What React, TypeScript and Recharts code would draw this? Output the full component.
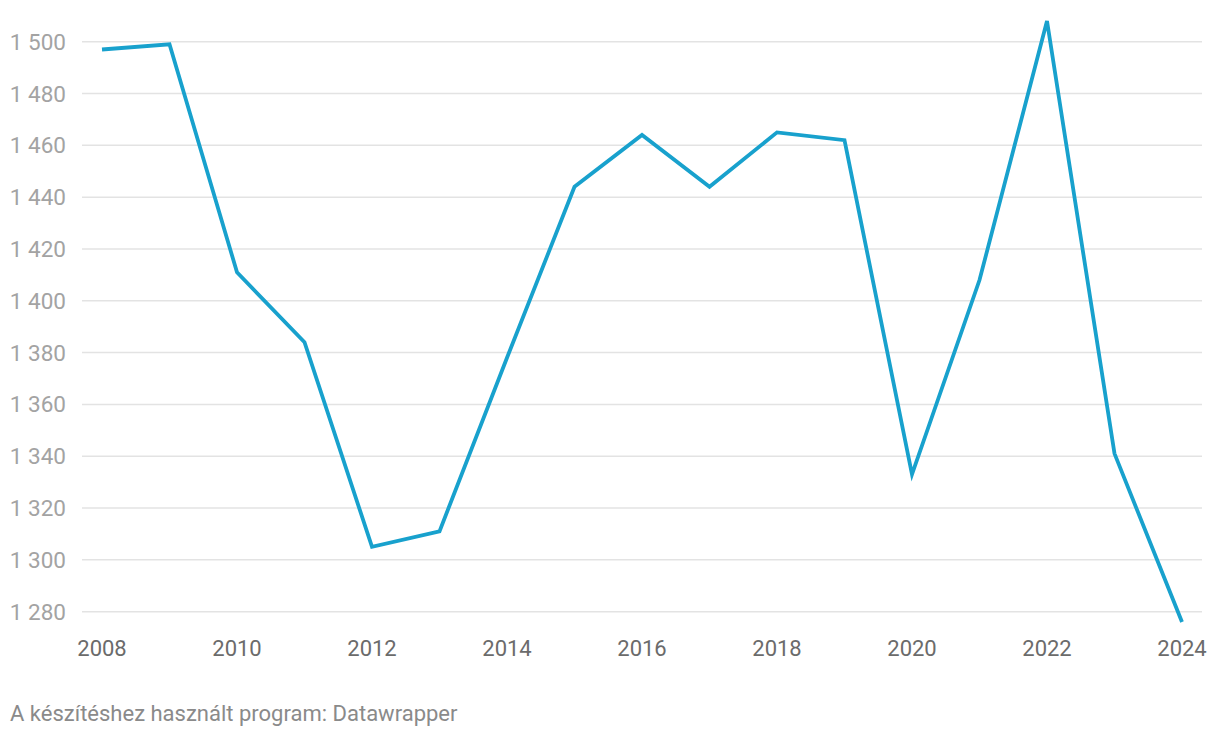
import React from "react"
import { LineChart, Line, XAxis, YAxis, ReferenceLine } from "recharts"

const years = [2008, 2009, 2010, 2011, 2012, 2013, 2014, 2015, 2016, 2017, 2018, 2019, 2020, 2021, 2022, 2023, 2024]
const values = [1497, 1499, 1411, 1384, 1305, 1311, 1378, 1444, 1464, 1444, 1465, 1462, 1333, 1408, 1508, 1341, 1276]
const xTicks = [2008, 2010, 2012, 2014, 2016, 2018, 2020, 2022, 2024]
const yTicks = [1280, 1300, 1320, 1340, 1360, 1380, 1400, 1420, 1440, 1460, 1480, 1500]

const data = years.map((year, i) => ({ year, value: values[i] }))

const fmt = (v: number) => {
  const s = String(v)
  return s.length > 3 ? s.slice(0, s.length - 3) + " " + s.slice(-3) : s
}

export default function App() {
  return (
    <div style={{ position: "absolute", left: 0, top: 0, width: 1220, height: 738, background: "#fff", fontFamily: "Roboto, sans-serif" }}>
      <LineChart width={1220} height={680} data={data} margin={{ top: 21, right: 18, bottom: 0, left: 0 }}>
        <XAxis
          dataKey="year"
          type="number"
          domain={[2008, 2024]}
          ticks={xTicks}
          padding={{ left: 20, right: 20 }}
          axisLine={false}
          tickLine={false}
          tickMargin={12}
          height={58}
          tick={{ fill: "#6b6b6b", fontSize: 22, fontFamily: "Roboto" }}
        />
        <YAxis
          domain={["dataMin", "dataMax"]}
          ticks={yTicks}
          width={82}
          axisLine={false}
          tickLine={false}
          tickMargin={10}
          tickFormatter={fmt}
          tick={{ fill: "#a3a3a3", fontSize: 22.5, fontFamily: "Roboto" }}
        />
        {yTicks.map((t) => (
          <ReferenceLine key={t} y={t} stroke="#e3e3e3" strokeWidth={1.5} />
        ))}
        <Line
          type="linear"
          dataKey="value"
          stroke="#18a1cd"
          strokeWidth={3.8}
          dot={false}
          isAnimationActive={false}
        />
      </LineChart>
      <div style={{ position: "absolute", left: 10, top: 701, fontSize: 22, color: "#8a8a8a", fontFamily: "Roboto" }}>
        A készítéshez használt program: Datawrapper
      </div>
    </div>
  )
}
